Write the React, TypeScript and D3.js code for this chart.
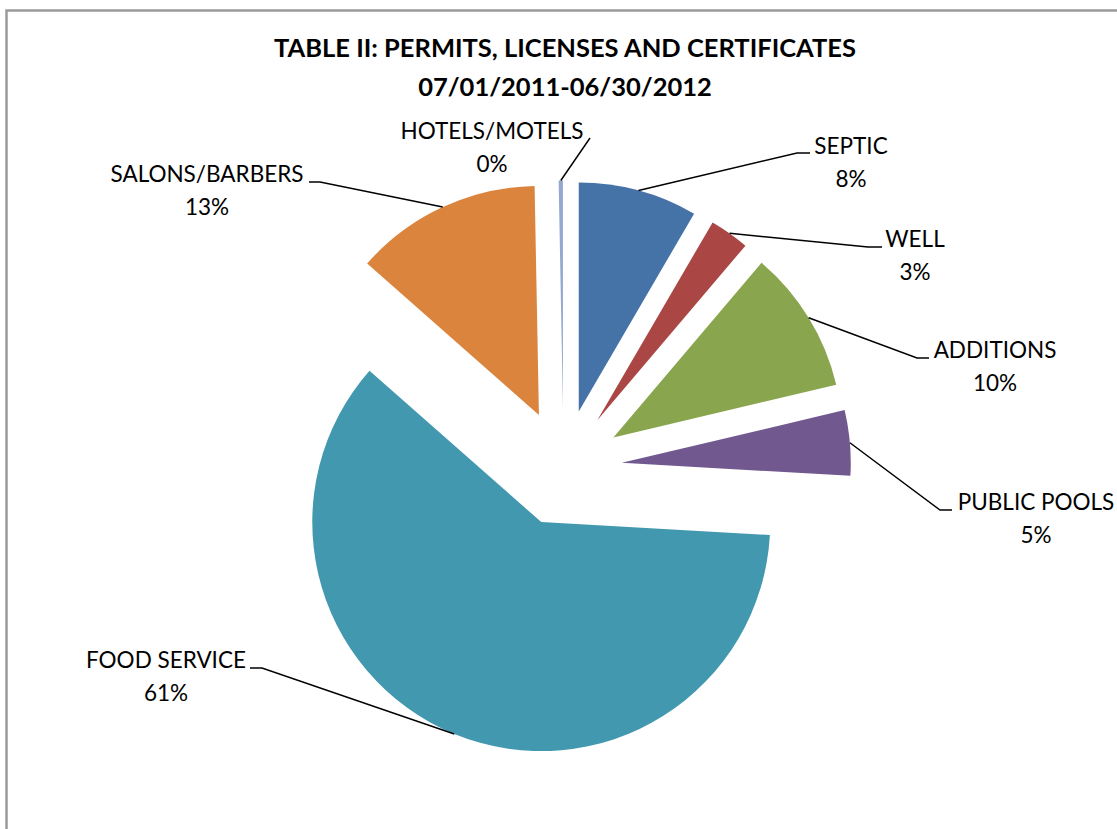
import * as d3 from 'd3';

// slice values (percent of total), clockwise from 12 o'clock
const categories = ['SEPTIC', 'WELL', 'ADDITIONS', 'PUBLIC POOLS', 'FOOD SERVICE', 'SALONS/BARBERS', 'HOTELS/MOTELS'];
const shares = [8.4, 2.8, 10.1, 4.6, 60.6, 13.2, 0.3];
const colors = ['#4572A7', '#AA4643', '#89A54E', '#71588F', '#4198AF', '#DB843D', '#93A9CF'];
const titleLines = ['TABLE II: PERMITS, LICENSES AND CERTIFICATES', '07/01/2011-06/30/2012'];

// where the data labels sit (text centre x, first baseline) and the leader elbow / end
const labelLayout = [
  { x: 851, y: 154, elbow: [797, 153], end: [810, 153] },
  { x: 915, y: 247, elbow: [868, 247], end: [882, 247] },
  { x: 995, y: 358, elbow: [917, 358], end: [929, 358] },
  { x: 1036, y: 510, elbow: [940, 510], end: [952, 510] },
  { x: 166, y: 668, elbow: [262, 668], end: [250, 668] },
  { x: 207, y: 182, elbow: [320, 182], end: [309, 182] },
  { x: 492, y: 139, elbow: [590, 138], end: [590, 138] },
];

const width = 1117;
const height = 829;
const cx = 563.5;
const cy = 468;
const radius = 229;
const explode = 58.5;
const font = 'Lato, "Open Sans", sans-serif';

export default function App() {
  const total = d3.sum(shares);
  const arcs = d3.pie<number>().sort(null).value(d => d)(shares);
  const arc = d3.arc<d3.PieArcDatum<number>>().innerRadius(0).outerRadius(radius);

  return (
    <svg width={width} height={height} style={{ position: 'absolute', left: 0, top: 0, background: '#fff' }}>
      <rect x={6.5} y={10.5} width={1300} height={1000} fill="#fff" stroke="#9a9a9a" strokeWidth={2.5} />

      {titleLines.map((t, i) => (
        <text key={t} x={565} y={57 + i * 39} textAnchor="middle" fontFamily={font}
          fontWeight="bold" fontSize={25.5} fill="#000">{t}</text>
      ))}

      {arcs.map((a, i) => {
        const mid = (a.startAngle + a.endAngle) / 2;
        const ox = cx + explode * Math.sin(mid);
        const oy = cy - explode * Math.cos(mid);
        const sx = ox + radius * Math.sin(mid);
        const sy = oy - radius * Math.cos(mid);
        const lab = labelLayout[i];
        const pts = [[sx, sy], lab.elbow, lab.end];
        return (
          <g key={categories[i]}>
            <path d={arc(a) || ''} transform={`translate(${ox},${oy})`} fill={colors[i]} />
            <path d={d3.line()(pts as [number, number][]) || ''} fill="none" stroke="#000" strokeWidth={1.5} />
            <text x={lab.x} y={lab.y} textAnchor="middle" fontFamily={font} fontSize={22.5} fill="#000">
              {categories[i]}
            </text>
            <text x={lab.x} y={lab.y + 33} textAnchor="middle" fontFamily={font} fontSize={22.5} fill="#000">
              {Math.round((a.data / total) * 100)}%
            </text>
          </g>
        );
      })}
    </svg>
  );
}
